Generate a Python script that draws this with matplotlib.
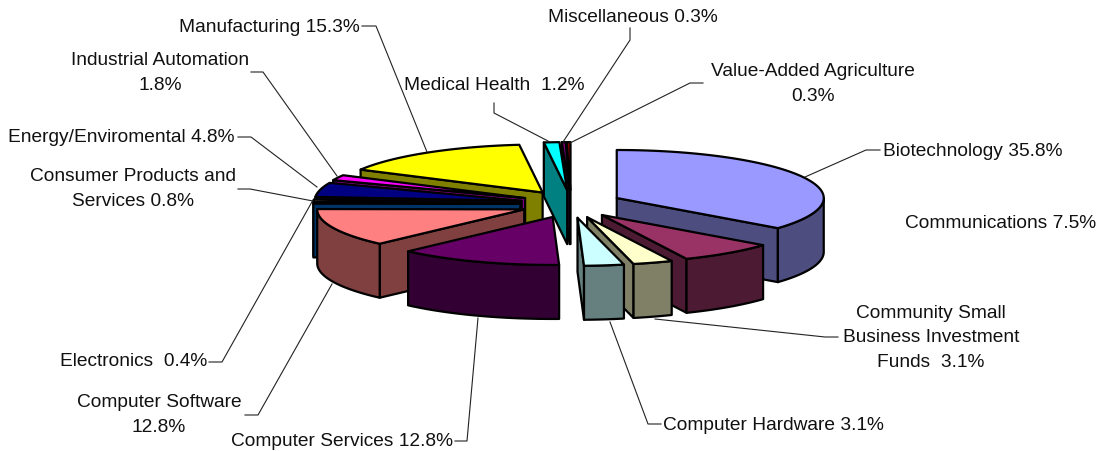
'''
Exploded 3D pie of investment by sector, drawn by hand because
matplotlib's pie has no depth.
'''

import numpy as np
import matplotlib
matplotlib.use("Agg")
import matplotlib.pyplot as plt
from matplotlib.patches import Polygon

plt.rcParams['font.family'] = ['Liberation Sans', 'DejaVu Sans']

# Data, clockwise from 12 o'clock
sectors = ["Biotechnology", "Communications", "Community Small Business Investment Funds",
           "Computer Hardware", "Computer Services", "Computer Software", "Electronics",
           "Consumer Products and Services", "Energy/Enviromental", "Industrial Automation",
           "Manufacturing", "Medical Health", "Miscellaneous", "Value-Added Agriculture"]
shares = [35.8, 7.5, 3.1, 3.1, 12.8, 12.8, 0.4, 0.8, 4.8, 1.8, 15.3, 1.2, 0.3, 0.3]
top_colors = ["#9999FF", "#993366", "#FFFFCC", "#CCFFFF", "#660066", "#FF8080", "#0066CC",
              "#CCCCFF", "#000080", "#FF00FF", "#FFFF00", "#00FFFF", "#800080", "#800000"]
side_colors = ["#4D4D80", "#4D1A33", "#808066", "#668080", "#330033", "#804040", "#003366",
               "#666680", "#000040", "#800080", "#808000", "#008080", "#400040", "#400000"]

# text, x, y, horizontal alignment
labels = [
    ("Biotechnology 35.8%", 883, 152, "left"),
    ("Communications 7.5%", 905, 224, "left"),
    ("Community Small\nBusiness Investment\nFunds  3.1%", 931, 338, "center"),
    ("Computer Hardware 3.1%", 663, 426, "left"),
    ("Computer Services 12.8%", 453, 442, "right"),
    ("Computer Software\n12.8%", 159, 415, "center"),
    ("Electronics  0.4%", 207, 362, "right"),
    ("Consumer Products and\nServices 0.8%", 133, 189, "center"),
    ("Energy/Enviromental 4.8%", 234, 138, "right"),
    ("Industrial Automation\n1.8%", 160, 73, "center"),
    ("Manufacturing 15.3%", 360, 27, "right"),
    ("Medical Health  1.2%", 494, 86, "center"),
    ("Miscellaneous 0.3%", 633, 17, "center"),
    ("Value-Added Agriculture\n0.3%", 813, 84, "center"),
]

leaders = [
    [(880, 150), (866, 150), (805, 177)],
    [(838, 337), (825, 337), (655, 319)],
    [(661, 424), (648, 424), (610, 322)],
    [(455, 441), (467, 441), (478, 318)],
    [(245, 415), (258, 415), (332, 284)],
    [(209, 362), (222, 362), (313, 200)],
    [(238, 189), (250, 189), (313, 201)],
    [(238, 137), (251, 137), (317, 187)],
    [(251, 72), (263, 72), (337, 176)],
    [(362, 26), (376, 26), (427, 152)],
    [(494, 103), (494, 113), (548, 141)],
    [(630, 28), (630, 40), (563, 142)],
    [(703, 83), (690, 83), (570, 143)],
]

# Pie geometry in pixels
cx, cy = 571, 204
rx, ry = 207, 48
depth = 54
explode_x, explode_y = 50.7, 13.9

fig = plt.figure(figsize=(10.96, 4.51), dpi=100)
ax = fig.add_axes([0, 0, 1, 1])
ax.set_xlim(0, 1096)
ax.set_ylim(451, 0)
ax.axis("off")


def on_rim(apex, deg):
    ''' Point of the rim at deg clockwise from the top '''
    rad = np.radians(deg)
    return apex[0] + rx * np.sin(rad), apex[1] - ry * np.cos(rad)


def wall(points, color, z):
    ''' Hang a list of top edge points down by the pie depth '''
    lower = [(x, y + depth) for x, y in reversed(points)]
    ax.add_patch(Polygon(points + lower, closed=True, fc=color, ec="black", lw=1.6,
                         joinstyle="round", zorder=z))


edges = np.cumsum([0] + shares) / sum(shares) * 360
middles = (edges[:-1] + edges[1:]) / 2

# Back to front, so nearer slices cover the ones behind
order = np.argsort(-np.cos(np.radians(middles)))

for z, i in enumerate(order):
    a0, a1 = edges[i], edges[i + 1]
    mid = np.radians(middles[i])
    apex = (cx + explode_x * np.sin(mid), cy - explode_y * np.cos(mid))
    rim = [on_rim(apex, a) for a in np.linspace(a0, a1, max(int(a1 - a0) * 2, 2))]

    # Only the walls that face the viewer
    if a0 > 180:
        wall([apex, rim[0]], side_colors[i], z)
    if a1 < 180:
        wall([rim[-1], apex], side_colors[i], z)
    low, high = max(a0, 90), min(a1, 270)
    if low < high:
        front = [on_rim(apex, a) for a in np.linspace(low, high, max(int(high - low) * 2, 2))]
        wall(front, side_colors[i], z)

    ax.add_patch(Polygon([apex] + rim, closed=True, fc=top_colors[i], ec="black", lw=1.6,
                         joinstyle="round", zorder=z))

for line in leaders:
    xs, ys = zip(*line)
    ax.plot(xs, ys, color="#222222", lw=0.8, zorder=50)

for text, x, y, ha in labels:
    ax.text(x, y, text, ha=ha, va="center", fontsize=13.8, color="#111111", linespacing=1.55, zorder=60)

fig.savefig("out.png", dpi=100)
